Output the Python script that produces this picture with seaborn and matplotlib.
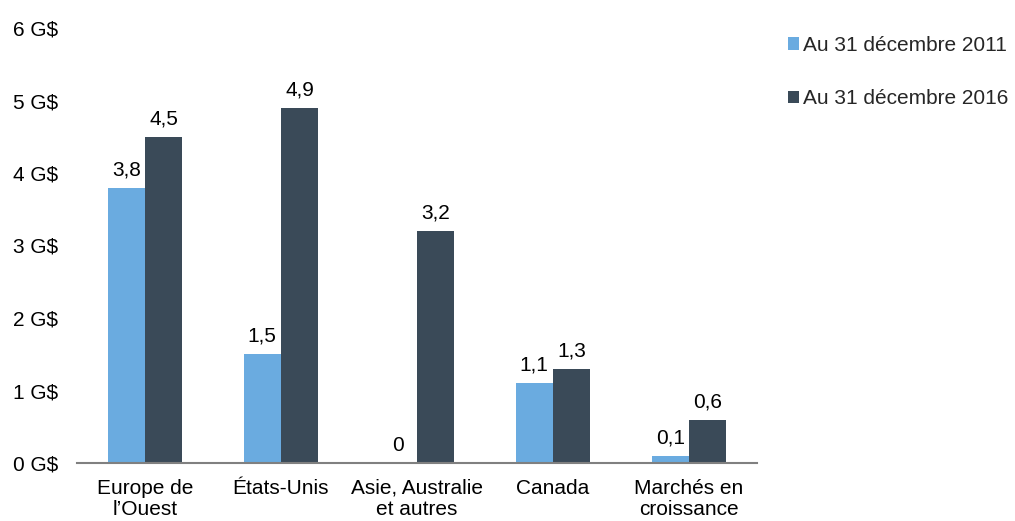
import matplotlib
matplotlib.use("Agg")
import matplotlib.pyplot as plt
import seaborn as sns
import pandas as pd

categories = ["Europe de\nl\u2019Ouest", "\u00c9tats-Unis", "Asie, Australie\net autres", "Canada", "March\u00e9s en\ncroissance"]
series_names = ["Au 31 d\u00e9cembre 2011", "Au 31 d\u00e9cembre 2016"]
values_2011 = [3.8, 1.5, 0.0, 1.1, 0.1]
values_2016 = [4.5, 4.9, 3.2, 1.3, 0.6]
y_ticks = [0, 1, 2, 3, 4, 5, 6]
y_tick_labels = ["0 G$", "1 G$", "2 G$", "3 G$", "4 G$", "5 G$", "6 G$"]
colors = ["#6AABE0", "#3A4A58"]

df = pd.DataFrame({
    "cat": categories * 2,
    "serie": [series_names[0]] * 5 + [series_names[1]] * 5,
    "val": values_2011 + values_2016,
})

sns.set_theme(style="white")
plt.rcParams["font.family"] = ["Liberation Sans", "DejaVu Sans"]

FS = 15

fig = plt.figure(figsize=(10.15, 5.21), dpi=100)
ax = fig.add_axes([77 / 1015, 58 / 521, 680 / 1015, (463 - 28) / 521])

sns.barplot(data=df, x="cat", y="val", hue="serie", hue_order=series_names,
            order=categories, palette=colors, width=0.55, gap=0,
            saturation=1, linewidth=0, ax=ax, legend=True)

ax.set_ylim(0, 6)
ax.set_xlim(-0.5, len(categories) - 0.5)
ax.set_yticks(y_ticks)
ax.set_yticklabels(y_tick_labels)
ax.set_xlabel("")
ax.set_ylabel("")
ax.tick_params(axis="both", length=0, labelsize=FS, colors="#000000")
ax.tick_params(axis="y", pad=13.5)
ax.tick_params(axis="x", pad=11.5)
for lbl in ax.get_xticklabels():
    lbl.set_linespacing(1.12)

for s in ["top", "right", "left"]:
    ax.spines[s].set_visible(False)
ax.spines["bottom"].set_color("#808080")
ax.spines["bottom"].set_linewidth(1.5)

def fmt(v):
    if v == 0:
        return "0"
    return f"{v:.1f}".replace(".", ",")

for cont, vals in zip(ax.containers, [values_2011, values_2016]):
    ax.bar_label(cont, labels=[fmt(v) for v in vals], padding=6, fontsize=FS, color="#000000")

handles, labels = ax.get_legend_handles_labels()
ax.legend(handles, labels, loc="upper left", bbox_to_anchor=(788 / 1015, 1 - 36 / 521),
          bbox_transform=fig.transFigure, frameon=False, fontsize=FS,
          handlelength=0.55, handleheight=0.55, handletextpad=0.15, labelspacing=1.65,
          borderaxespad=0, borderpad=0)

fig.savefig("out.png", dpi=100)
